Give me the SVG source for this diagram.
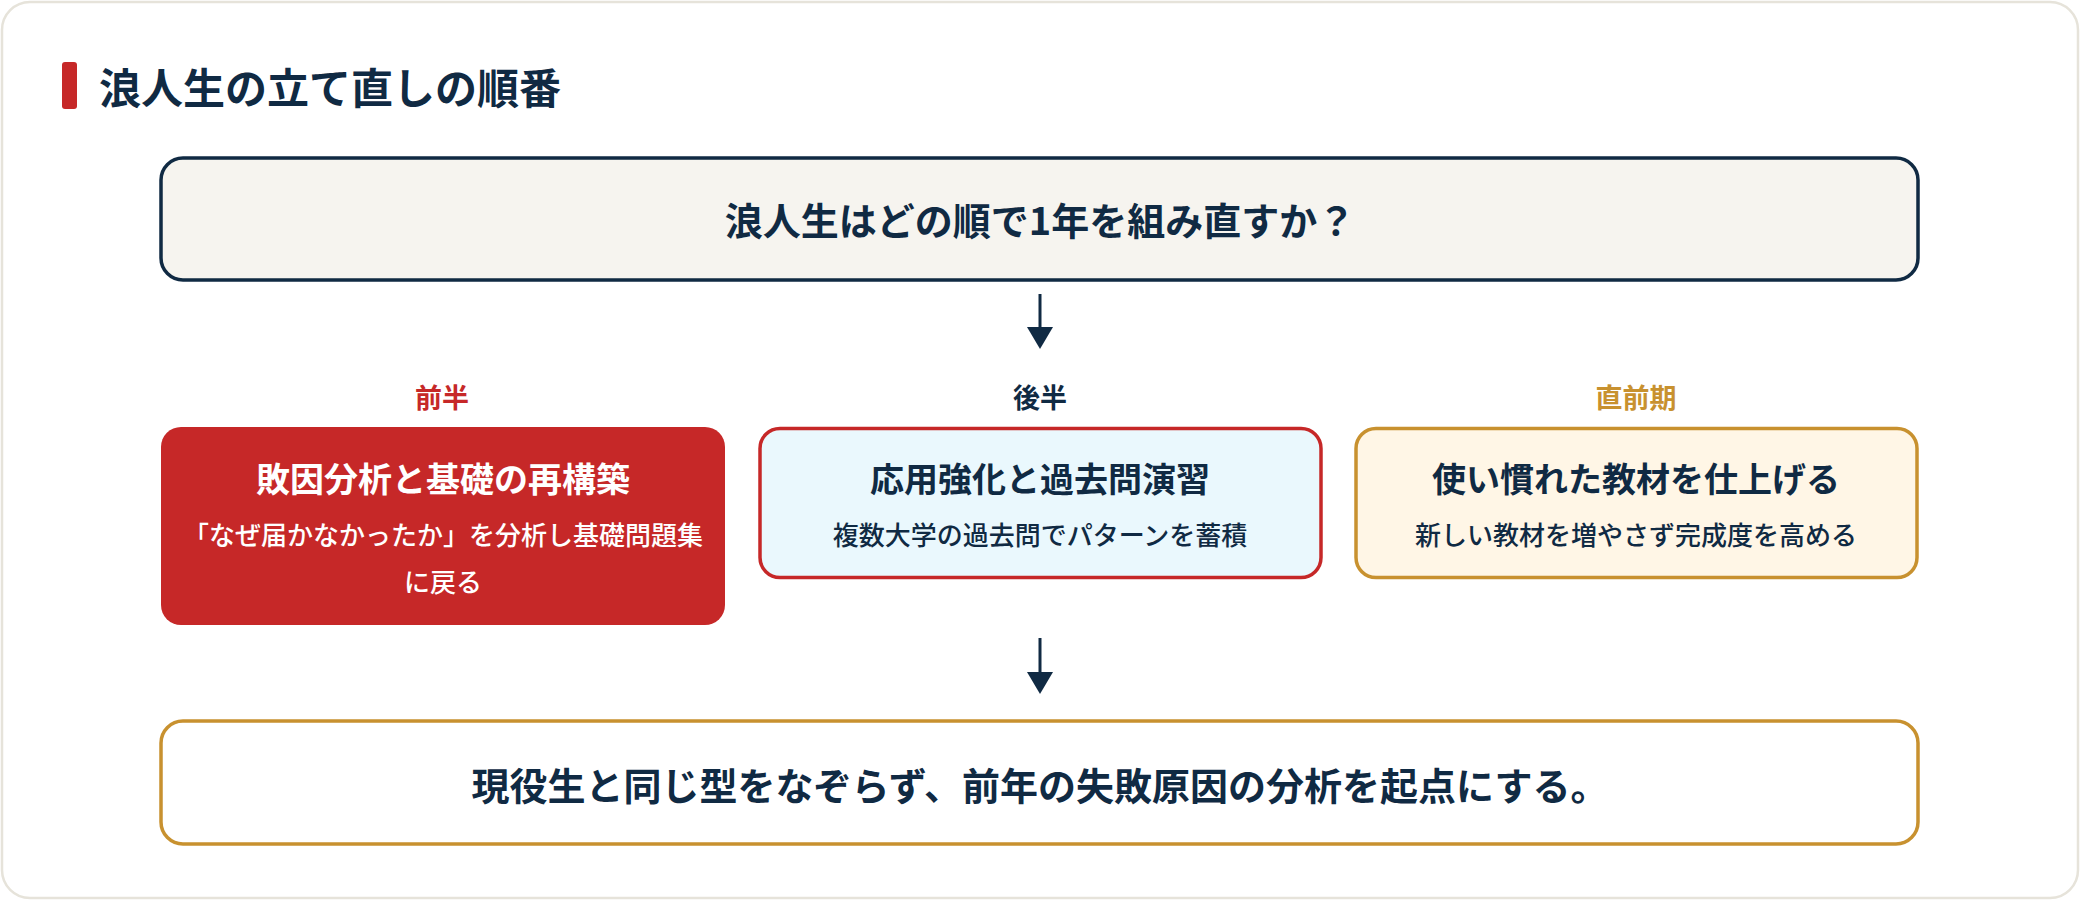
<svg xmlns="http://www.w3.org/2000/svg" width="2080" height="900" viewBox="0 0 2080 900">
  <style>
    text { font-family: "Noto Sans CJK JP", "Noto Sans", sans-serif; text-anchor: middle; }
    .h { font-size: 34px; font-weight: 700; }
    .s { font-size: 26px; font-weight: 500; }
    .lbl { font-size: 27px; font-weight: 700; }
    .big { font-size: 38px; font-weight: 700; fill: #102a43; }
    .navy { fill: #102a43; }
    .conn { stroke: #102a43; stroke-width: 3; fill: none; }
    .head { fill: #102a43; }
  </style>
  <rect x="0" y="0" width="2080" height="900" fill="#ffffff"/>
  <rect x="2" y="2" width="2076" height="896" rx="28" fill="#ffffff" stroke="#e6e3da" stroke-width="2.5"/>

  <g id="title">
    <rect x="62" y="62" width="15" height="47" rx="3" fill="#c62828"/>
    <text x="99" y="104" style="text-anchor:start;font-size:42px;font-weight:700" class="navy">浪人生の立て直しの順番</text>
  </g>

  <g id="question">
    <rect x="161" y="158" width="1757" height="122" rx="22" fill="#f6f4ef" stroke="#102a43" stroke-width="3.5"/>
    <text x="1040" y="235" class="big">浪人生はどの順で1年を組み直すか？</text>
  </g>

  <g id="connectors">
    <path class="conn" d="M1040,294 V330"/>
    <path class="head" d="M1027,327 L1053,327 L1040,349 z"/>
    <path class="conn" d="M1040,638 V674"/>
    <path class="head" d="M1027,672 L1053,672 L1040,694 z"/>
  </g>

  <g id="phase1">
    <text x="442" y="408" class="lbl" fill="#c62828">前半</text>
    <rect x="161" y="427" width="564" height="198" rx="20" fill="#c62828"/>
    <text x="443" y="492" class="h" fill="#ffffff">敗因分析と基礎の再構築</text>
    <text x="443" y="545" class="s" fill="#ffffff">「なぜ届かなかったか」を分析し基礎問題集</text>
    <text x="443" y="592" class="s" fill="#ffffff">に戻る</text>
  </g>

  <g id="phase2">
    <text x="1040" y="408" class="lbl navy">後半</text>
    <rect x="760" y="428.5" width="561" height="149" rx="20" fill="#eaf8fd" stroke="#c62828" stroke-width="3.5"/>
    <text x="1040" y="492" class="h navy">応用強化と過去問演習</text>
    <text x="1040" y="545" class="s navy">複数大学の過去問でパターンを蓄積</text>
  </g>

  <g id="phase3">
    <text x="1636" y="408" class="lbl" fill="#c8912f">直前期</text>
    <rect x="1356" y="428.5" width="561" height="149" rx="20" fill="#fff6e6" stroke="#c8912f" stroke-width="3.5"/>
    <text x="1636" y="492" class="h navy">使い慣れた教材を仕上げる</text>
    <text x="1636" y="545" class="s navy">新しい教材を増やさず完成度を高める</text>
  </g>

  <g id="conclusion">
    <rect x="161" y="721" width="1757" height="123" rx="22" fill="#ffffff" stroke="#c8912f" stroke-width="3.5"/>
    <text x="1040" y="800" class="big">現役生と同じ型をなぞらず、前年の失敗原因の分析を起点にする。</text>
  </g>
</svg>
